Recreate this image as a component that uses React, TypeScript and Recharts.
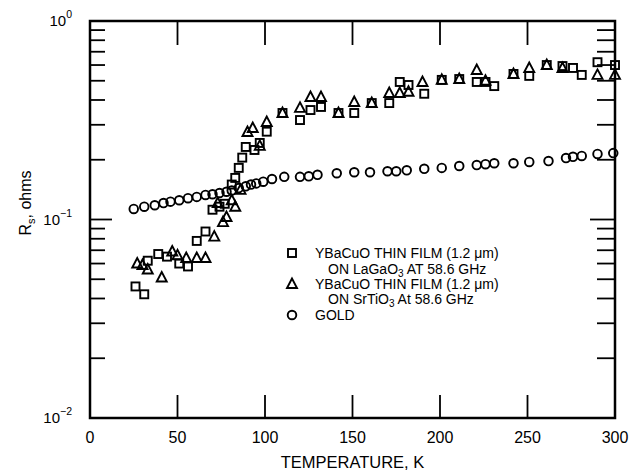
import { ScatterChart, Scatter, XAxis, YAxis, ReferenceArea } from 'recharts';

// Surface resistance vs temperature (log scale)
const goldT = [25, 31, 37, 42, 46, 51, 56, 61, 66, 70, 74, 78, 81, 85, 89, 92, 95, 99, 104, 111, 120, 125, 130, 141, 151, 160, 170, 175, 181, 191, 201, 211, 221, 226, 231, 242, 251, 262, 272, 276, 281, 290, 299];
const goldRs = [0.113, 0.116, 0.118, 0.121, 0.123, 0.125, 0.128, 0.13, 0.133, 0.134, 0.136, 0.138, 0.14, 0.144, 0.147, 0.15, 0.152, 0.155, 0.16, 0.164, 0.164, 0.165, 0.168, 0.171, 0.173, 0.173, 0.175, 0.175, 0.177, 0.18, 0.182, 0.186, 0.188, 0.19, 0.192, 0.192, 0.195, 0.197, 0.204, 0.207, 0.209, 0.214, 0.216];

const lagaoT = [26, 31, 33, 39, 44, 51, 56, 61, 66, 70, 74, 77, 81, 83, 85, 87, 89, 94, 97, 101, 110, 120, 126, 132, 142, 151, 161, 171, 177, 182, 191, 201, 211, 221, 226, 231, 242, 251, 261, 270, 276, 281, 290, 300];
const lagaoRs = [0.046, 0.042, 0.062, 0.067, 0.065, 0.06, 0.058, 0.078, 0.087, 0.112, 0.116, 0.12, 0.15, 0.162, 0.182, 0.205, 0.232, 0.224, 0.243, 0.277, 0.344, 0.317, 0.356, 0.369, 0.344, 0.344, 0.386, 0.386, 0.493, 0.476, 0.43, 0.505, 0.51, 0.493, 0.493, 0.47, 0.541, 0.529, 0.6, 0.593, 0.58, 0.535, 0.62, 0.6];

const srtioT = [27, 30, 33, 41, 47, 50, 55, 61, 66, 71, 73, 76, 78, 81, 83, 86, 90, 93, 97, 101, 110, 120, 126, 132, 142, 151, 161, 171, 177, 182, 190, 201, 211, 221, 226, 242, 251, 261, 270, 290, 300];
const srtioRs = [0.06, 0.059, 0.056, 0.051, 0.069, 0.066, 0.064, 0.064, 0.064, 0.082, 0.121, 0.097, 0.103, 0.125, 0.116, 0.141, 0.276, 0.289, 0.235, 0.31, 0.344, 0.365, 0.414, 0.414, 0.344, 0.391, 0.386, 0.434, 0.434, 0.44, 0.493, 0.505, 0.51, 0.566, 0.5, 0.541, 0.58, 0.6, 0.58, 0.535, 0.535];

const xTicks = [0, 50, 100, 150, 200, 250, 300];
const yTicks = [0.01, 0.02, 0.03, 0.04, 0.05, 0.06, 0.07, 0.08, 0.09, 0.1, 0.2, 0.3, 0.4, 0.5, 0.6, 0.7, 0.8, 0.9, 1];
const yMajor: Record<string, string> = { '0.01': '\u22122', '0.1': '\u22121', '1': '0' };

const W = 633;
const H = 466;
const PLOT_W = 525;
const PLOT_H = 397;
const FONT = "'Liberation Sans', Arial, Helvetica, sans-serif";
const NARROW = "'Liberation Sans Narrow', 'Liberation Sans', Arial, sans-serif";

const toPoints = (t: number[], rs: number[]) => t.map((v, i) => ({ t: v, rs: rs[i] }));
const gold = toPoints(goldT, goldRs);
const lagao = toPoints(lagaoT, lagaoRs);
const srtio = toPoints(srtioT, srtioRs);

const SquareDot = ({ cx, cy }: any) => (
  <rect x={cx - 4} y={cy - 4} width={8} height={8} fill="none" stroke="#000" strokeWidth={1.9} />
);
const TriangleDot = ({ cx, cy }: any) => (
  <polygon points={`${cx},${cy - 5.5} ${cx - 5},${cy + 4} ${cx + 5},${cy + 4}`} fill="none" stroke="#000" strokeWidth={1.9} />
);
const CircleDot = ({ cx, cy }: any) => (
  <circle cx={cx} cy={cy} r={4.3} fill="none" stroke="#000" strokeWidth={1.9} />
);

const YTick = ({ x, y, payload }: any) => {
  const v = payload.value;
  const exp = yMajor[String(v)];
  const edge = v === 0.01 || v === 1;
  const len = exp ? 22 : 15;
  return (
    <g>
      {!edge && <line x1={x} x2={x + len} y1={y} y2={y} stroke="#000" strokeWidth={1.8} />}
      {!edge && <line x1={x + PLOT_W - len - 3} x2={x + PLOT_W} y1={y} y2={y} stroke="#000" strokeWidth={1.8} />}
      {exp && (
        <text x={x - 18} y={y} textAnchor="end" fontFamily={FONT} fill="#000">
          <tspan dy={5} fontSize={15}>10</tspan>
          <tspan dy={-8} fontSize={10.5}>{exp}</tspan>
        </text>
      )}
    </g>
  );
};

const XTick = ({ x, y, payload }: any) => {
  const v = payload.value;
  const edge = v === 0 || v === 300;
  return (
    <g>
      {!edge && <line x1={x} x2={x} y1={y} y2={y - 23} stroke="#000" strokeWidth={1.8} />}
      {!edge && <line x1={x} x2={x} y1={y - PLOT_H} y2={y - PLOT_H + 24} stroke="#000" strokeWidth={1.8} />}
      <text x={x} y={y + 25} textAnchor="middle" fontFamily={FONT} fontSize={16} fill="#000">{v}</text>
    </g>
  );
};

const legendRows = [
  { mark: 'square', text: 'YBaCuO THIN FILM (1.2 \u03bcm)' },
  { mark: '', text: 'ON LaGaO', sub: '3', rest: ' AT 58.6 GHz' },
  { mark: 'triangle', text: 'YBaCuO THIN FILM (1.2 \u03bcm)' },
  { mark: '', text: 'ON SrTiO', sub: '3', rest: ' At 58.6 GHz' },
  { mark: 'circle', text: 'GOLD' },
];

function LegendBox() {
  const rowY = [13, 29, 44, 59, 75];
  return (
    <svg width={340} height={90} style={{ position: 'absolute', left: 272, top: 232 }}>
      {legendRows.map((r, i) => {
        const cy = rowY[i];
        return (
          <g key={i}>
            {r.mark === 'square' && <SquareDot cx={12} cy={cy} />}
            {r.mark === 'triangle' && <TriangleDot cx={12} cy={cy} />}
            {r.mark === 'circle' && <CircleDot cx={12} cy={cy} />}
            <text x={r.mark ? 35 : 48} y={cy + 5} fontFamily={NARROW} fontSize={14} fill="#000">
              {r.text}
              {r.sub && <tspan dy={3} fontSize={10}>{r.sub}</tspan>}
              {r.rest && <tspan dy={-3}>{r.rest}</tspan>}
            </text>
          </g>
        );
      })}
    </svg>
  );
}

export default function App() {
  return (
    <div style={{ position: 'relative', width: W, height: H, background: '#fff' }}>
      <ScatterChart width={W} height={H} margin={{ top: 13, right: 26, left: 0, bottom: 0 }} style={{ overflow: 'visible' }}>
        <XAxis
          type="number"
          dataKey="t"
          domain={[0, 300]}
          ticks={xTicks}
          interval={0}
          height={56}
          tickSize={0}
          tickMargin={0}
          tickLine={false}
          axisLine={false}
          tick={<XTick />}
          label={{
            content: ({ viewBox }: any) => (
              <text x={viewBox.x + viewBox.width / 2} y={viewBox.y + 50} textAnchor="middle" fontFamily={FONT} fontSize={16.5} fill="#000">
                TEMPERATURE, K
              </text>
            ),
          }}
        />
        <YAxis
          type="number"
          dataKey="rs"
          scale="log"
          domain={[0.01, 1]}
          allowDataOverflow
          ticks={yTicks}
          interval={0}
          width={82}
          tickSize={0}
          tickMargin={0}
          tickLine={false}
          axisLine={false}
          tick={<YTick />}
          label={{
            content: () => (
              <text x={23} y={195} transform="rotate(-90, 23, 195)" textAnchor="middle" fontFamily={FONT} fontSize={16} fill="#000">
                R<tspan dy={4} fontSize={11}>s</tspan>
                <tspan dy={-4}>, ohms</tspan>
              </text>
            ),
          }}
        />
        <ReferenceArea x1={0} x2={300} y1={0.01} y2={1} fill="none" fillOpacity={0} stroke="#000" strokeWidth={2.5} ifOverflow="visible" />
        <Scatter name="LaGaO3" data={lagao} shape={<SquareDot />} isAnimationActive={false} />
        <Scatter name="SrTiO3" data={srtio} shape={<TriangleDot />} isAnimationActive={false} />
        <Scatter name="Gold" data={gold} shape={<CircleDot />} isAnimationActive={false} />
      </ScatterChart>
      <LegendBox />
    </div>
  );
}
